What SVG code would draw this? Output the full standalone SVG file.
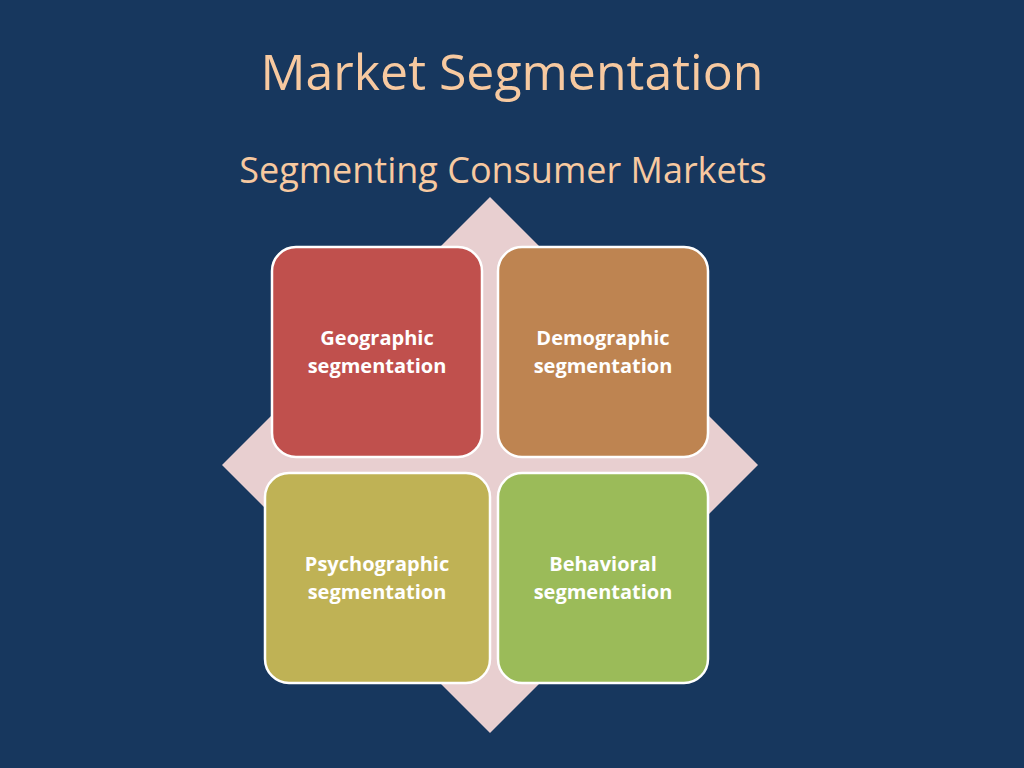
<svg xmlns="http://www.w3.org/2000/svg" width="1024" height="768" viewBox="0 0 1024 768">
<style>
.t{font-family:"Open Sans","Liberation Sans",sans-serif;fill:#F7C9A0}
.b{stroke:#fff;stroke-width:2.5}
.l{font-family:"Open Sans","Liberation Sans",sans-serif;font-weight:bold;font-size:20px;fill:#fff;text-anchor:middle}
</style>
<rect width="1024" height="768" fill="#17375E"/>
<text class="t" x="512" y="90" font-size="50" text-anchor="middle">Market Segmentation</text>
<text class="t" x="503" y="183" font-size="36" text-anchor="middle">Segmenting Consumer Markets</text>
<polygon points="490,197 758,465 490,733 222,465" fill="#E8CFD0"/>
<g id="geographic"><rect class="b" x="272" y="247" width="210" height="210" rx="24" fill="#C0504D"/><text class="l" x="377" y="345">Geographic</text><text class="l" x="377" y="373">segmentation</text></g>
<g id="demographic"><rect class="b" x="498" y="247" width="210" height="210" rx="24" fill="#BE8451"/><text class="l" x="603" y="345">Demographic</text><text class="l" x="603" y="373">segmentation</text></g>
<g id="psychographic"><rect class="b" x="265" y="473" width="225" height="210" rx="24" fill="#BFB255"/><text class="l" x="377" y="571">Psychographic</text><text class="l" x="377" y="599">segmentation</text></g>
<g id="behavioral"><rect class="b" x="498" y="473" width="210" height="210" rx="24" fill="#9BBB59"/><text class="l" x="603" y="571">Behavioral</text><text class="l" x="603" y="599">segmentation</text></g>
<g id="connectors"/>
</svg>
